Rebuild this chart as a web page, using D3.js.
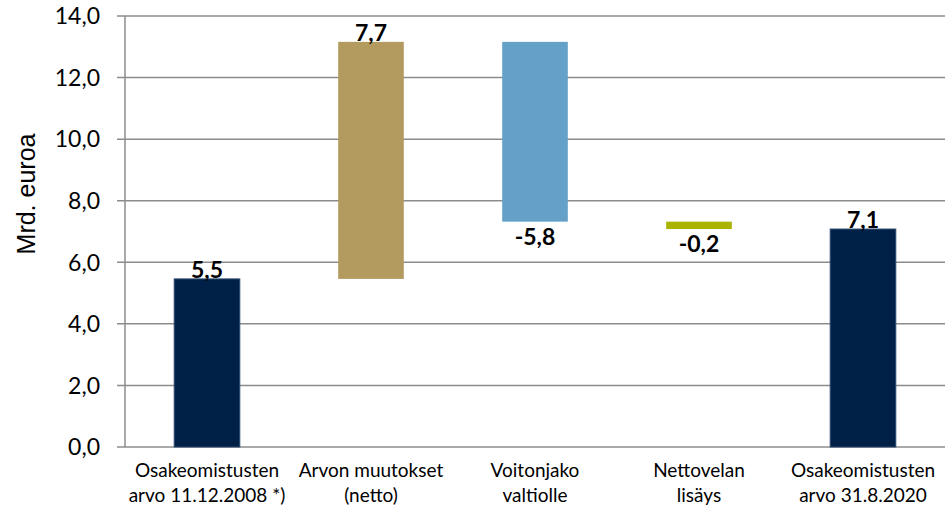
<!DOCTYPE html>
<html><head><meta charset="utf-8">
<script src="https://cdn.jsdelivr.net/npm/d3@7"></script>
<style>body{margin:0;background:#fff}svg{display:block}</style>
</head><body>
<svg id="c" width="951" height="512"></svg>
<script>
const categories = [
  ["Osakeomistusten", "arvo 11.12.2008 *)"],
  ["Arvon muutokset", "(netto)"],
  ["Voitonjako", "valtiolle"],
  ["Nettovelan", "lisäys"],
  ["Osakeomistusten", "arvo 31.8.2020"]
];
const kinds = ["total", "delta", "delta", "delta", "total"];
const values = [5.46, 7.70, -5.84, -0.24, 7.08];
const colors = ["#002147", "#B39A5F", "#64A0C8", "#A9B300", "#002147"];
const yTicks = [0, 2, 4, 6, 8, 10, 12, 14];
const yTitle = "Mrd. euroa";

(function () {
const svg = d3.select("#c");
const pL = 125, pR = 945, pT = 16, pB = 447;
const F = "Lato, 'Open Sans', sans-serif";
const x = d3.scaleBand().domain(d3.range(categories.length)).range([pL, pR]).paddingInner(0.6).paddingOuter(0.3);
const y = d3.scaleLinear().domain([0, 14]).range([pB, pT]);
const fmt = v => d3.format(".1f")(v).replace(".", ",").replace("−", "-");

let run = 0;
const spans = values.map((v, i) => {
  let a, b;
  if (kinds[i] === "total") { a = 0; b = v; run = v; }
  else { a = run; b = run + v; run = b; }
  return {i, v, lo: Math.min(a, b), hi: Math.max(a, b)};
});

svg.append("g").selectAll("line").data(yTicks).join("line")
  .attr("x1", pL - 8).attr("x2", pR)
  .attr("y1", d => y(d)).attr("y2", d => y(d))
  .attr("stroke", "#8c8c8c").attr("stroke-width", 1.5);
svg.append("line").attr("x1", pL).attr("x2", pL).attr("y1", y(14)).attr("y2", pB)
  .attr("stroke", "#8c8c8c").attr("stroke-width", 1.5);

svg.append("g").selectAll("text").data(yTicks).join("text")
  .attr("x", 100).attr("y", d => y(d)).attr("dy", "0.36em")
  .attr("text-anchor", "end").attr("font-family", F)
  .attr("font-size", 23).attr("fill", "#000").text(d => fmt(d));

svg.append("text").attr("transform", "translate(35,194) rotate(-90)")
  .attr("text-anchor", "middle").attr("font-family", "'Liberation Sans', Arial, sans-serif")
  .attr("font-size", 25).attr("fill", "#000").text(yTitle);

svg.append("g").selectAll("rect").data(spans).join("rect")
  .attr("x", d => x(d.i)).attr("width", x.bandwidth())
  .attr("y", d => y(d.hi)).attr("height", d => y(d.lo) - y(d.hi))
  .attr("fill", d => colors[d.i])
  .attr("stroke", d => kinds[d.i] === "total" ? "#2d4a70" : "none").attr("stroke-width", 1);

svg.append("g").selectAll("text").data(spans).join("text")
  .attr("x", d => x(d.i) + x.bandwidth() / 2)
  .attr("y", d => d.v >= 0 ? y(d.hi) - 1 : y(d.lo) + 23)
  .attr("text-anchor", "middle").attr("font-family", F)
  .attr("font-weight", "bold").attr("font-size", 23).attr("fill", "#000")
  .text(d => fmt(d.v));

const cg = svg.append("g").selectAll("text").data(categories).join("text")
  .attr("text-anchor", "middle").attr("font-family", F)
  .attr("font-size", 19).attr("fill", "#000");
cg.selectAll("tspan").data((d, i) => d.map(t => ({t, i}))).join("tspan")
  .attr("x", d => x(d.i) + x.bandwidth() / 2)
  .attr("y", (d, j) => 477 + j * 25)
  .text(d => d.t);
})();
</script>
</body></html>
